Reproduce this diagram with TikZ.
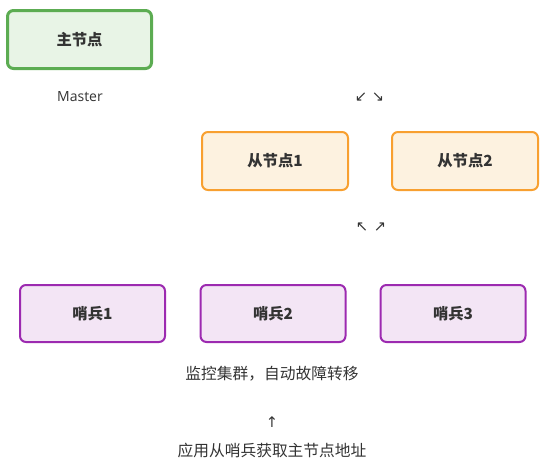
\documentclass[tikz,border=0pt]{standalone}
\usepackage{fontspec}
\setmainfont{Open Sans}
\newfontfamily\cjk{Noto Sans CJK SC}
\newfontfamily\symb{DejaVu Sans}
\definecolor{txtdark}{RGB}{51,51,51}
\definecolor{mastergreen}{RGB}{92,172,82}
\definecolor{masterfill}{RGB}{232,244,230}
\definecolor{slaveorange}{RGB}{248,160,48}
\definecolor{slavefill}{RGB}{253,242,224}
\definecolor{sentpurple}{RGB}{156,42,176}
\definecolor{sentfill}{RGB}{243,229,245}
\tikzset{every picture/.style={line width=0.75pt}}
\tikzset{
  masterbox/.style={draw=mastergreen, fill=masterfill, line width=2.25pt, rounded corners=4.5pt,
    minimum width=108pt, minimum height=43.5pt, inner sep=0pt, font=\cjk\bfseries\fontsize{11.5}{13}\selectfont, text=txtdark},
  slavebox/.style={draw=slaveorange, fill=slavefill, line width=1.5pt, rounded corners=4.5pt,
    minimum width=109.5pt, minimum height=43.5pt, inner sep=0pt, font=\cjk\bfseries\fontsize{11.5}{13}\selectfont, text=txtdark},
  sentbox/.style={draw=sentpurple, fill=sentfill, line width=1.5pt, rounded corners=4.5pt,
    minimum width=108.75pt, minimum height=42.75pt, inner sep=0pt, font=\cjk\bfseries\fontsize{11.5}{13}\selectfont, text=txtdark},
  plaintxt/.style={inner sep=0.75pt, text=txtdark, font=\cjk\fontsize{11.8}{14}\selectfont},
  arrowtxt/.style={inner sep=0.75pt, text=txtdark, font=\symb\fontsize{11}{13}\selectfont}
}
\begin{document}
\begin{tikzpicture}[x=0.75pt,y=0.75pt,yscale=-1,xscale=1]
\useasboundingbox (0,0) rectangle (546,471);

% Master
\node [masterbox] (master) at (79.5,39.5) {主节点};
\node [plaintxt, font=\fontsize{10.5}{12}\selectfont] (masterlbl) at (80,97) {Master};

% Replicas
\node [slavebox] (slave1) at (275,161) {从节点1};
\node [slavebox] (slave2) at (465,161) {从节点2};

% Replication arrows
\node [arrowtxt] (arrdl) at (361,97) {↙};
\node [arrowtxt] (arrdr) at (378,97) {↘};
\node [arrowtxt] (arrul) at (362,227) {↖};
\node [arrowtxt] (arrur) at (380,227) {↗};

% Sentinels
\node [sentbox] (sent1) at (92.5,313.5) {哨兵1};
\node [sentbox] (sent2) at (273,313.5) {哨兵2};
\node [sentbox] (sent3) at (453,313.5) {哨兵3};

% Notes
\node [plaintxt] (monitor) at (272,374) {监控集群，自动故障转移};
\node [arrowtxt] (arrup) at (272,422) {↑};
\node [plaintxt] (client) at (272,451) {应用从哨兵获取主节点地址};
\end{tikzpicture}
\end{document}
